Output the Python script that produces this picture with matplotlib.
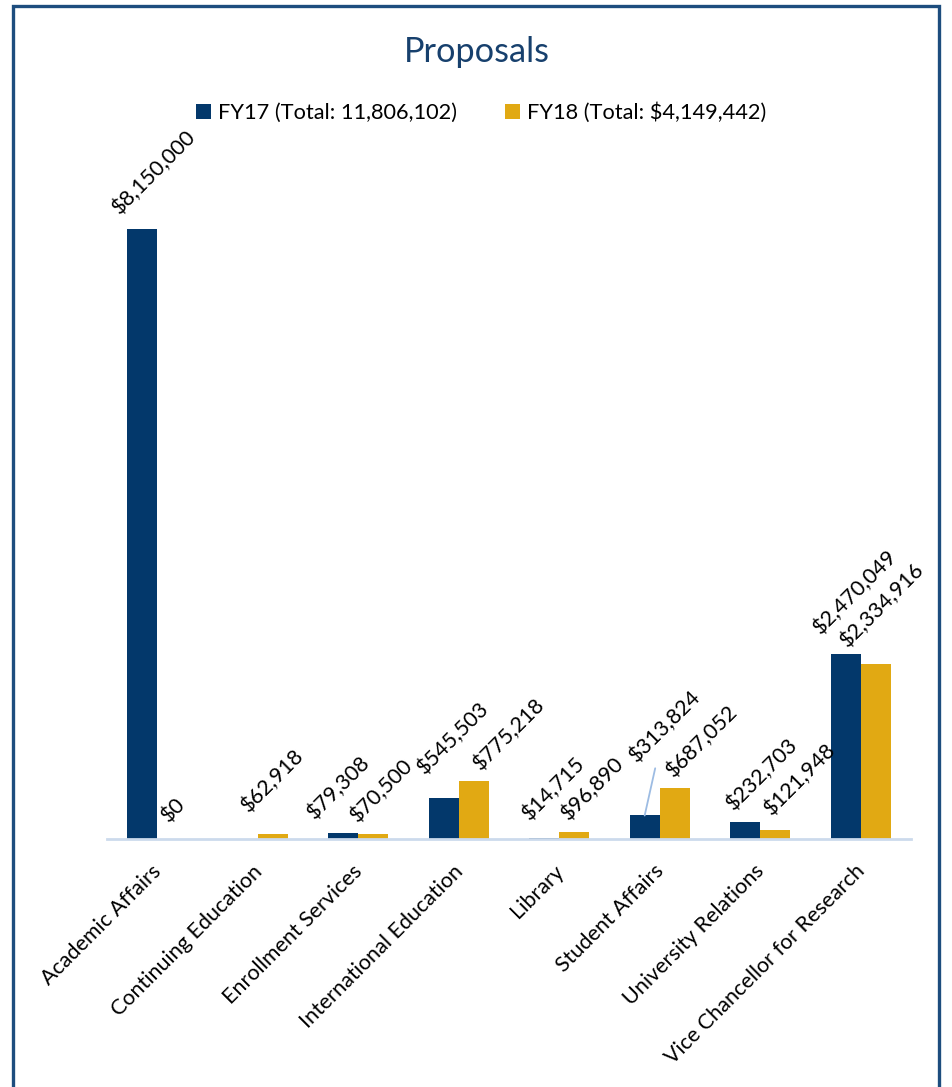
import matplotlib.pyplot as plt
import numpy as np
from matplotlib.patches import Rectangle
from matplotlib.transforms import ScaledTranslation

# data
categories = [
    "Academic Affairs",
    "Continuing Education",
    "Enrollment Services",
    "International Education",
    "Library",
    "Student Affairs",
    "University Relations",
    "Vice Chancellor for Research",
]
fy17 = [8150000, np.nan, 79308, 545503, 14715, 313824, 232703, 2470049]
fy18 = [0, 62918, 70500, 775218, 96890, 687052, 121948, 2334916]
series_names = ["FY17 (Total: 11,806,102)", "FY18 (Total: $4,149,442)"]

NAVY = "#03386B"
GOLD = "#E1A913"
TITLE_BLUE = "#17406D"
BORDER = "#1D4D7E"
AXIS_BLUE = "#CCDAEC"
FONT = "Lato"

# label nudges (px): horizontal shift of label centre, gap above the bar
label_nudge = {
    (0, 0): (12, 11), (1, 0): (1, 13),
    (1, 1): (0, 19),
    (0, 2): (-5, 10), (1, 2): (8, 8),
    (0, 3): (9, 20), (1, 3): (35, 7),
    (0, 4): (9, 14), (1, 4): (18, 8),
    (0, 5): (20, 50), (1, 5): (27, 7),
    (0, 6): (17, 8), (1, 6): (25, 11),
    (0, 7): (9, 16), (1, 7): (6, 13),
}

W, H = 953, 1087
fig = plt.figure(figsize=(W / 100, H / 100), dpi=100)
ax = fig.add_axes([107 / W, (H - 839) / H, 804 / W, 674 / H])

x = np.arange(len(categories))
width = 0.3
colors = [NAVY, GOLD]
for s, vals in enumerate([fy17, fy18]):
    pos = x - width / 2 + s * width
    ax.bar(pos, vals, width, color=colors[s], label=series_names[s], zorder=2)
    for i, v in enumerate(vals):
        if np.isnan(v):
            continue
        dx, gap = label_nudge.get((s, i), (8, 10))
        arrow = None
        if gap > 30:
            arrow = dict(arrowstyle="-", color="#9DBCE3", lw=1.3,
                         shrinkA=0, shrinkB=0)
        ax.annotate("${:,.0f}".format(v), xy=(pos[i], v),
                    xytext=(dx * 0.72, gap * 0.72), textcoords="offset points",
                    ha="center", va="bottom", rotation=45, fontsize=15.5,
                    family=FONT, color="black", arrowprops=arrow)

ax.set_xlim(-0.5, len(categories) - 0.5)
ax.set_ylim(0, 9000000)
for side in ["left", "right", "top"]:
    ax.spines[side].set_visible(False)
ax.spines["bottom"].set_color(AXIS_BLUE)
ax.spines["bottom"].set_linewidth(2)
ax.set_yticks([])
ax.set_xticks(x)
ax.set_xticklabels(categories, rotation=45, ha="right",
                   rotation_mode="anchor", fontsize=15.5, family=FONT)
ax.tick_params(axis="x", length=0, pad=16)
shift = ScaledTranslation(-6 / 100, 0, fig.dpi_scale_trans)
for lbl in ax.get_xticklabels():
    lbl.set_transform(lbl.get_transform() + shift)

fig.text(477 / W, 1 - 52 / H, "Proposals", ha="center", va="center",
         fontsize=24.7, color=TITLE_BLUE, family=FONT)

fig.legend(loc="center", bbox_to_anchor=(481 / W, 1 - 113 / H), ncol=2,
           frameon=False, prop={"family": FONT, "size": 15.7},
           handlelength=0.7, handleheight=0.7, handletextpad=0.3,
           columnspacing=2.2)

fig.patches.append(Rectangle((13 / W, -0.02), (939 - 13) / W, 1.02 - 6 / H,
                             transform=fig.transFigure, fill=False,
                             edgecolor=BORDER, lw=2.4))

fig.savefig("out.png", dpi=100)
